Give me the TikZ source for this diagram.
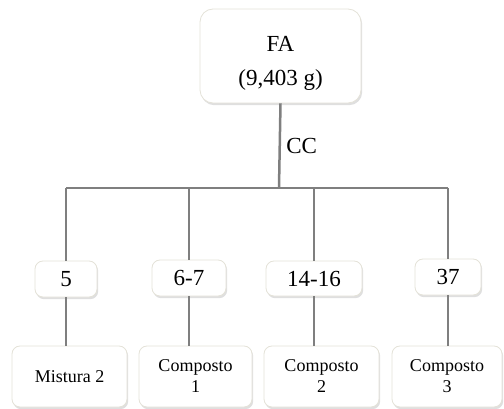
\documentclass[tikz,border=0pt]{standalone}
\usepackage{fontspec}
\setmainfont{Liberation Serif}
\usetikzlibrary{shadows}
\definecolor{boxedge}{RGB}{228,226,216}
\definecolor{stem}{RGB}{127,127,127}
\begin{document}
\begin{tikzpicture}[x=1pt, y=-1pt, line width=2.5pt, draw=stem,
  box/.style={draw=boxedge, line width=0.8pt, fill=white, rounded corners=8pt, align=center, inner sep=0pt,
    drop shadow={opacity=0.25, shadow xshift=1.2pt, shadow yshift=-2.2pt}},
  bigfont/.style={font=\fontsize{23}{34}\selectfont},
  smallfont/.style={font=\fontsize{18}{21}\selectfont}]
  \useasboundingbox (0,0) rectangle (504,409);
  \node[box, bigfont, rounded corners=13pt, minimum width=161pt, minimum height=94pt] (fa) at (280.5,56)
    {\raisebox{-6pt}[\height][\depth]{\begin{tabular}{@{}c@{}}FA\\(9,403 g)\end{tabular}}};
  \coordinate (bus) at (279,188);
  \node[bigfont, anchor=west, inner sep=0pt] (cc) at (285,146) {CC};
  \node[box, bigfont, minimum width=62pt, minimum height=36pt] (f1) at (66,279) {5};
  \node[box, bigfont, minimum width=74pt, minimum height=36pt] (f2) at (189,278) {6-7};
  \node[box, bigfont, minimum width=96pt, minimum height=35pt] (f3) at (314,278.5) {14-16};
  \node[box, bigfont, minimum width=66pt, minimum height=36pt] (f4) at (448,277) {37};
  \node[box, smallfont, minimum width=115pt, minimum height=61pt] (m1) at (69.5,376.5) {Mistura 2};
  \node[box, smallfont, minimum width=113pt, minimum height=61pt] (m2) at (195.5,376.5) {Composto\\1};
  \node[box, smallfont, minimum width=115pt, minimum height=61pt] (m3) at (321.5,376.5) {Composto\\2};
  \node[box, smallfont, minimum width=110pt, minimum height=61pt] (m4) at (447,376.5) {Composto\\3};
  \draw (fa.south) -- (bus);
  \draw (f1 |- bus) -- (f4 |- bus);
  \foreach \i in {1,...,4} {
    \draw (f\i |- bus) -- (f\i.north);
    \draw (f\i.south) -- (f\i.south |- m\i.north);
  }
\end{tikzpicture}
\end{document}
